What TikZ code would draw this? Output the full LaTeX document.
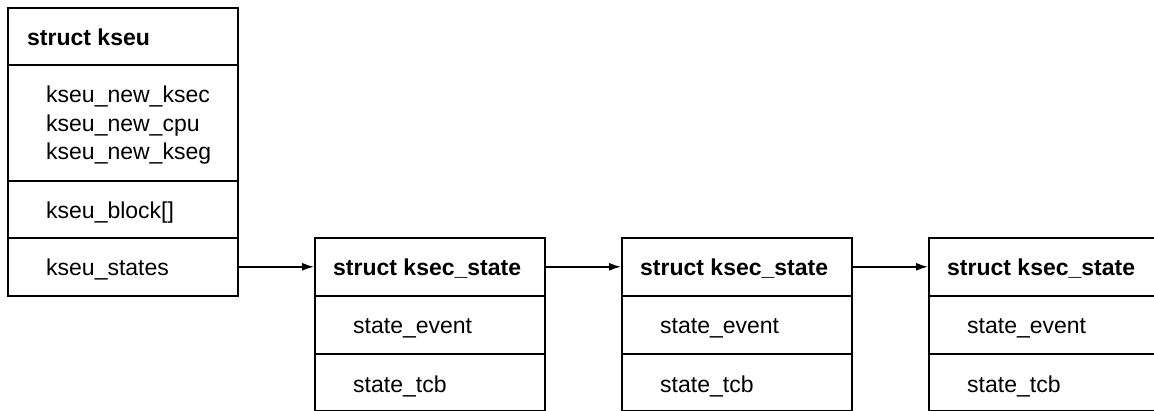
\documentclass[tikz,border=0pt]{standalone}
\usepackage{fontspec}
\setmainfont{Liberation Sans}
\usetikzlibrary{arrows.meta}
\tikzset{
  cell/.style={draw, line width=1.6pt, rectangle, inner sep=0pt, minimum width=230pt, anchor=north west},
  title/.style={anchor=base west, inner sep=0pt, font=\fontsize{23}{28}\selectfont\bfseries},
  field/.style={anchor=base west, inner sep=0pt, font=\fontsize{23}{28}\selectfont},
  link/.style={line width=1.5pt, -{Latex[length=12pt,width=8pt]}}
}
\begin{document}
\begin{tikzpicture}[x=1pt,y=-1pt]
\useasboundingbox (0,0) rectangle (1154,411);
% struct kseu
\node[cell, minimum height=57pt]  (kt) at (7,7) {};
\node[cell, minimum height=116pt] (km) at (7,64) {};
\node[cell, minimum height=57pt]  (kb) at (7,180) {};
\node[cell, minimum height=58pt]  (ks) at (7,237) {};
\node[title] (ktt) at (27,46) {struct kseu};
\node[field] (k1) at (46,103) {kseu\_new\_ksec};
\node[field] (k2) at (46,132) {kseu\_new\_cpu};
\node[field] (k3) at (46,160) {kseu\_new\_kseg};
\node[field] (k4) at (46,219) {kseu\_block[]};
\node[field] (k5) at (46,276) {kseu\_states};
% struct ksec_state boxes
\foreach \i/\x in {1/314, 2/621, 3/928} {
  \node[cell, minimum height=58pt] (s\i t) at (\x,237) {};
  \node[cell, minimum height=58pt] (s\i e) at (\x,295) {};
  \node[cell, minimum height=57pt] (s\i c) at (\x,353) {};
  \node[title] (s\i tt) at (\x+19,276) {struct ksec\_state};
  \node[field] (s\i et) at (\x+39,334) {state\_event};
  \node[field] (s\i ct) at (\x+39,392) {state\_tcb};
}
% links
\draw[link] (ks.east) -- (s1t.west);
\draw[link] (s1t.east) -- (s2t.west);
\draw[link] (s2t.east) -- (s3t.west);
\end{tikzpicture}
\end{document}
